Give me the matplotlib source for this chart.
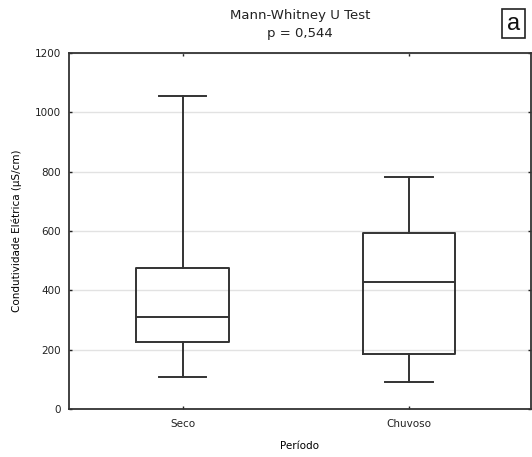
import matplotlib.pyplot as plt
from matplotlib.patches import Rectangle

plt.rcParams['font.family'] = ['DejaVu Sans']

# box statistics
periodos = ['Seco', 'Chuvoso']
whis_lo = [108, 92]
q1 = [226, 184]
medianas = [310, 428]
q3 = [475, 594]
whis_hi = [1055, 783]
y_ticks = [0, 200, 400, 600, 800, 1000, 1200]

stats = [
    {'label': p, 'whislo': lo, 'q1': a, 'med': m, 'q3': b, 'whishi': hi, 'fliers': []}
    for p, lo, a, m, b, hi in zip(periodos, whis_lo, q1, medianas, q3, whis_hi)
]

fig = plt.figure(figsize=(5.32, 4.57), dpi=100)
ax = fig.add_axes([0.1297, 0.105, 0.8683, 0.779])

line = dict(color='#333333', linewidth=1.4)
ax.bxp(stats, positions=[1, 2], widths=0.41, showfliers=False,
       boxprops=line, whiskerprops=line, capprops=line,
       medianprops=line, capwidths=0.21)

ax.set_xlim(0.4976, 2.539)
ax.set_ylim(0, 1200)
ax.set_yticks(y_ticks)
ax.set_xticks([1, 2])
ax.set_xticklabels(periodos)
ax.yaxis.grid(True, color='#e2e2e2', linewidth=1.0)
ax.set_axisbelow(True)

ax.tick_params(direction='in', length=2, width=1, labelsize=7.5,
               top=True, right=True, colors='#222222')
ax.tick_params(axis='x', pad=7)
ax.tick_params(axis='y', pad=6)
for s in ax.spines.values():
    s.set_color('#333333')
    s.set_linewidth(1.3)

ax.set_xlabel('Período', fontsize=7.5, labelpad=9)
ax.set_ylabel('Condutividade Elétrica (µS/cm)', fontsize=7.5, labelpad=9)

# two-line title, placed like the reference
fig.text(0.564, 1 - 16 / 457, 'Mann-Whitney U Test', fontsize=9.5,
         ha='center', va='center', color='#222222')
fig.text(0.564, 1 - 34 / 457, 'p = 0,544', fontsize=9.5,
         ha='center', va='center', color='#222222')

# panel letter in a box
fig.patches.append(Rectangle((502 / 532, 1 - 38.3 / 457), 23 / 532, 29.6 / 457,
                             transform=fig.transFigure, facecolor='white',
                             edgecolor='#222222', linewidth=1.2))
fig.text(513.7 / 532, 1 - 24 / 457, 'a', fontsize=17, ha='center', va='center',
         family='Liberation Sans', color='#111111')

plt.savefig('out.png', dpi=100)
